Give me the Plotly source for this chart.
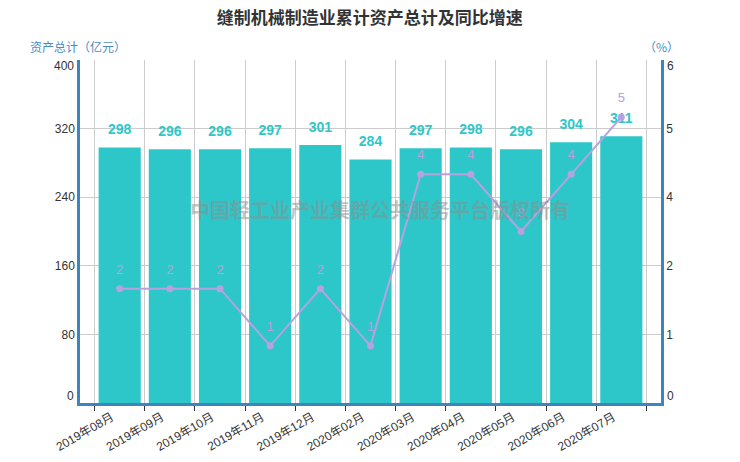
import plotly.graph_objects as go

months = ['2019年08月', '2019年09月', '2019年10月', '2019年11月', '2019年12月', '2020年02月',
          '2020年03月', '2020年04月', '2020年05月', '2020年06月', '2020年07月']
assets = [298, 296, 296, 297, 301, 284, 297, 298, 296, 304, 311]
growth = [2, 2, 2, 1, 2, 1, 4, 4, 3, 4, 5]

left_ticks = [0, 80, 160, 240, 320, 400]
right_ticks = [0, 1.2, 2.4, 3.6, 4.8, 6]
right_text = ['0', '1', '2', '4', '5', '6']

font_family = 'Arial, Liberation Sans, Noto Sans CJK SC'
axis_blue = '#3d85c0'
tick_font = dict(size=12, color='#333333', family=font_family)

fig = go.Figure()

fig.add_trace(go.Bar(x=months, y=assets, name='资产总计', marker=dict(color='#2ec7c9', line=dict(width=0)),
                     hoverinfo='x+y'))

# bar value labels (invisible markers push the text up a bit)
fig.add_trace(go.Scatter(x=months, y=assets, mode='markers+text', text=[str(v) for v in assets],
                         texttemplate='<b>%{text}</b>',
                         textposition='top center', marker=dict(size=14, opacity=0),
                         textfont=dict(color='#2ec7c9', size=14, family=font_family),
                         showlegend=False, hoverinfo='skip'))

fig.add_trace(go.Scatter(x=months, y=growth, yaxis='y2', mode='lines+markers', name='同比增速',
                         line=dict(color='#b6a2de', width=2), marker=dict(size=7, color='#b6a2de')))

fig.add_trace(go.Scatter(x=months, y=growth, yaxis='y2', mode='markers+text', text=[str(v) for v in growth],
                         textposition='top center', marker=dict(size=17, opacity=0),
                         textfont=dict(color='#b6a2de', size=13, family=font_family),
                         showlegend=False, hoverinfo='skip'))

# edge tick labels sit a little inside the plot, like the original, so draw them as annotations
left_text = [str(v) for v in left_ticks]
left_axis_text = [''] + left_text[1:-1] + ['']
right_axis_text = [''] + right_text[1:-1] + ['']
edge_notes = []
for i, shift in ((0, 7), (-1, -6)):
    edge_notes.append(dict(text=left_text[i], xref='paper', yref='y', x=0, y=left_ticks[i], xanchor='right',
                           yanchor='middle', xshift=-4, yshift=shift, showarrow=False, font=tick_font))
    edge_notes.append(dict(text=right_text[i], xref='paper', yref='y2', x=1, y=right_ticks[i], xanchor='left',
                           yanchor='middle', xshift=4, yshift=shift, showarrow=False, font=tick_font))

# the page puts the figure 8px in from the window corner, margins allow for that
fig.update_layout(
    width=740, height=462,
    title=dict(text='<b>缝制机械制造业累计资产总计及同比增速</b>', x=0.489, xanchor='center',
               y=0.978, yanchor='middle',
               font=dict(size=17, color='#333333', family='Noto Sans CJK SC')),
    font=dict(family=font_family, color='#333333', size=12),
    plot_bgcolor='white', paper_bgcolor='white',
    margin=dict(l=72, r=87, t=52, b=67),
    showlegend=False,
    bargap=0.16,
    xaxis=dict(type='category', tickson='boundaries', showgrid=True, gridcolor='#cccccc', gridwidth=1,
               ticks='outside', ticklen=5, tickcolor='#333333', tickangle=-30, automargin=False,
               ticklabelshift=-8, tickfont=tick_font,
               showline=True, linecolor=axis_blue, linewidth=2.5),
    yaxis=dict(range=[0, 400], tickvals=left_ticks, ticktext=left_axis_text, showgrid=True,
               gridcolor='#cccccc', automargin=False,
               showline=True, linecolor=axis_blue, linewidth=2.5, zeroline=False,
               tickfont=tick_font, ticks=''),
    yaxis2=dict(range=[0, 6], tickvals=right_ticks, ticktext=right_axis_text, overlaying='y', side='right',
                showgrid=False, showline=True, linecolor=axis_blue, linewidth=2.5, zeroline=False,
                automargin=False, tickfont=tick_font, ticks=''),
    annotations=[
        dict(text='资产总计（亿元）', xref='paper', yref='paper', x=-0.003, y=1.038, xanchor='center',
             yanchor='middle', showarrow=False, font=dict(size=12, color='#4a8bc4', family='Noto Sans CJK SC')),
        dict(text='（%）', xref='paper', yref='paper', x=1.0017, y=1.038, xanchor='center',
             yanchor='middle', showarrow=False, font=dict(size=12, color='#4a8bc4', family='Noto Sans CJK SC')),
        dict(text='<b>中国轻工业产业集群公共服务平台版权所有</b>', xref='paper', yref='paper', x=0.516, y=0.563,
             xanchor='center', yanchor='middle', showarrow=False,
             font=dict(size=20, color='rgba(140,140,140,0.5)', family='Noto Sans CJK SC')),
    ] + edge_notes,
)

fig.write_html('out.html')
